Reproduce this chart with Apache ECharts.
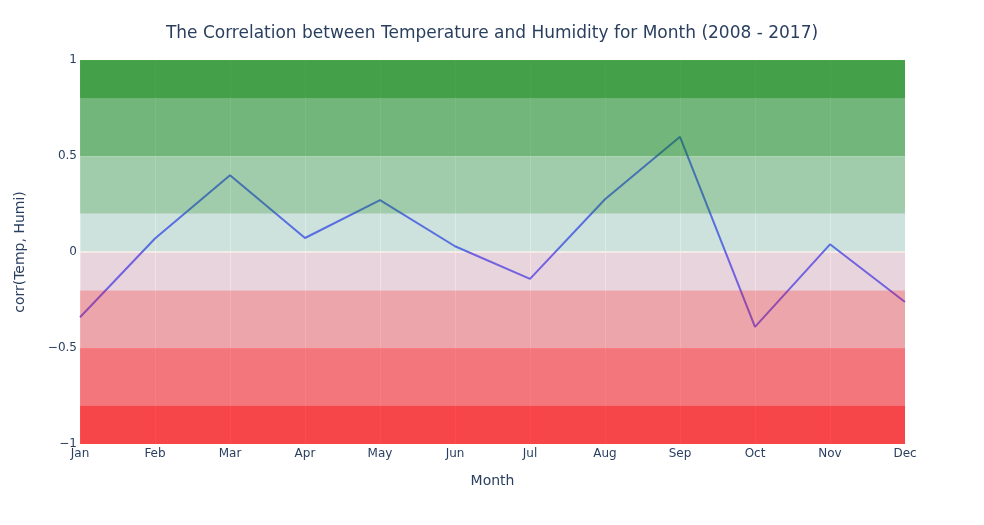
<!DOCTYPE html>
<html>
<head>
<meta charset="utf-8">
<script src="https://cdn.jsdelivr.net/npm/echarts@6/dist/echarts.min.js"></script>
<style>
  html, body { margin: 0; padding: 0; background: #fff; }
  #chart { width: 984px; height: 525px; }
</style>
</head>
<body>
<div id="chart"></div>
<script>
// months and monthly correlation values
var months = ['Jan', 'Feb', 'Mar', 'Apr', 'May', 'Jun', 'Jul', 'Aug', 'Sep', 'Oct', 'Nov', 'Dec'];
var corrValues = [-0.34, 0.07, 0.40, 0.073, 0.27, 0.03, -0.14, 0.275, 0.60, -0.39, 0.04, -0.26];
var yTicks = [-1, -0.5, 0, 0.5, 1];
// colour bands: [from, to, colour]
var bands = [
    [0.8, 1, 'rgba(0,128,0,0.7)'],
    [0.5, 0.8, 'rgba(0,128,0,0.5)'],
    [0.2, 0.5, 'rgba(0,128,0,0.3)'],
    [0, 0.2, 'rgba(0,128,0,0.1)'],
    [-0.2, 0, 'rgba(255,0,0,0.1)'],
    [-0.5, -0.2, 'rgba(255,0,0,0.3)'],
    [-0.8, -0.5, 'rgba(255,0,0,0.5)'],
    [-1, -0.8, 'rgba(255,0,0,0.7)']
];

var font = '"DejaVu Sans", verdana, arial, sans-serif';
var textColor = '#2a3f5f';

var chart = echarts.init(document.getElementById('chart'));

var bandData = bands.map(function(b) {
    return [{ yAxis: b[0], itemStyle: { color: b[2] } }, { yAxis: b[1] }];
});

var option = {
    animation: false,
    backgroundColor: '#fff',
    title: {
        text: 'The Correlation between Temperature and Humidity for Month (2008 - 2017)',
        left: 'center',
        top: 20,
        textStyle: { fontFamily: font, fontSize: 17, fontWeight: 'normal', color: textColor }
    },
    grid: {
        left: 80, right: 79, top: 60, bottom: 81,
        show: true, backgroundColor: '#E5ECF6', borderWidth: 0
    },
    xAxis: {
        type: 'category',
        data: months,
        boundaryGap: false,
        name: 'Month',
        nameLocation: 'middle',
        nameGap: 30,
        nameTextStyle: { fontFamily: font, fontSize: 14, color: textColor },
        axisLine: { show: false },
        axisTick: { show: false },
        axisLabel: { fontFamily: font, fontSize: 12, color: textColor, margin: 4 },
        splitLine: { show: true, lineStyle: { color: 'rgba(255,255,255,0.7)', width: 1 } }
    },
    yAxis: {
        type: 'value',
        min: -1, max: 1, interval: 0.5,
        name: 'corr(Temp, Humi)',
        nameLocation: 'middle',
        nameGap: 53,
        nameTextStyle: { fontFamily: font, fontSize: 14, color: textColor },
        axisLine: { show: false },
        axisTick: { show: false },
        axisLabel: {
            fontFamily: font, fontSize: 12, color: textColor, margin: 3,
            formatter: function(v) {
                if (yTicks.indexOf(v) < 0) return '';
                return v < 0 ? '\u2212' + Math.abs(v) : String(v);
            }
        },
        splitLine: { show: true, lineStyle: { color: 'rgba(255,255,255,0.7)', width: 1 } }
    },
    series: [
        {
            type: 'line',
            data: corrValues,
            z: 2,
            symbol: 'none',
            lineStyle: { color: '#636efa', width: 2 },
            markLine: {
                silent: true,
                symbol: 'none',
                z: 2,
                label: { show: false },
                lineStyle: { color: '#fff', width: 2, type: 'solid' },
                data: [{ yAxis: 0 }]
            }
        },
        {
            type: 'line',
            data: [],
            z: 10,
            silent: true,
            markArea: {
                silent: true,
                z: 10,
                data: bandData
            }
        }
    ]
};

chart.setOption(option);
</script>
</body>
</html>
